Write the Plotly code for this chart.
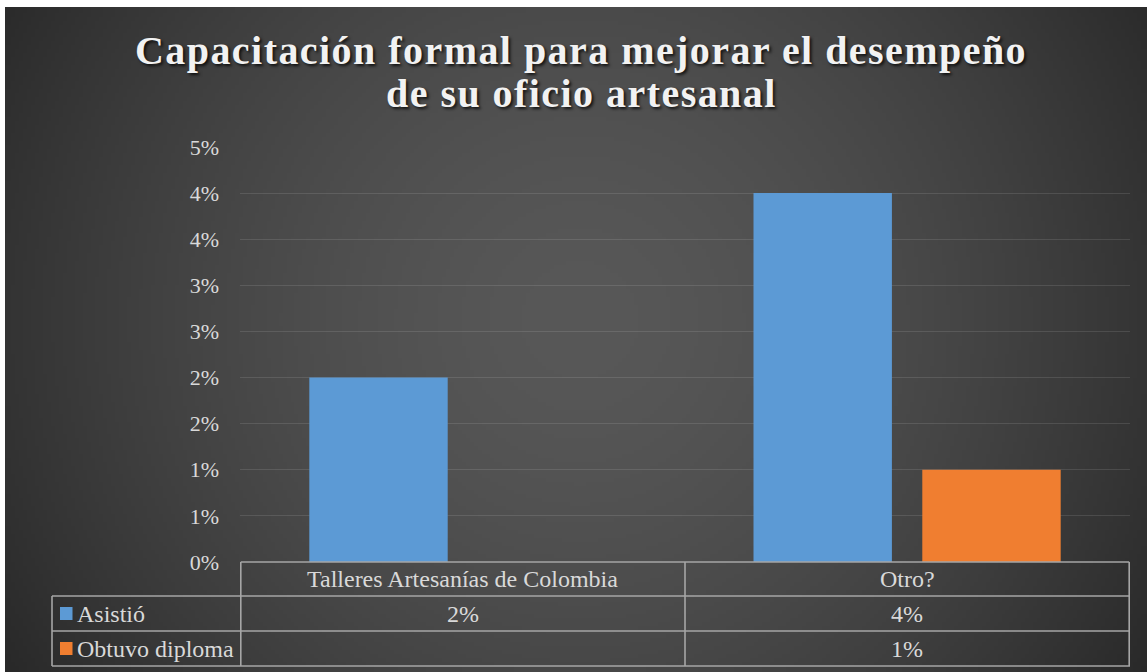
import base64
import struct
import zlib

import numpy as np
import plotly.graph_objects as go

# ---------------- data ----------------
categories = ["Talleres Artesanías de Colombia", "Otro?"]
series_names = ["Asistió", "Obtuvo diploma"]
asistio = [0.02, 0.04]
obtuvo_diploma = [None, 0.01]
series_values = [asistio, obtuvo_diploma]
series_colors = ["#5c9ad5", "#f07e30"]

y_tick_vals = [0.0, 0.005, 0.01, 0.015, 0.02, 0.025, 0.03, 0.035, 0.04, 0.045]
y_tick_text = ["0%", "1%", "1%", "2%", "2%", "3%", "3%", "4%", "4%", "5%"]

title_line1 = "Capacitación formal para mejorar el desempeño"
title_line2 = "de su oficio artesanal"

# ---------------- geometry helpers ----------------
W, H = 1147, 672


def px(x):
    return x / W


def py(y):
    return 1 - y / H


# ---------------- background gradient (PNG) ----------------
def make_png(gray):
    h, w = gray.shape
    raw = b"".join(b"\x00" + gray[i].tobytes() for i in range(h))

    def chunk(tag, data):
        c = struct.pack(">I", len(data)) + tag + data
        return c + struct.pack(">I", zlib.crc32(tag + data) & 0xFFFFFFFF)

    png = b"\x89PNG\r\n\x1a\n"
    png += chunk(b"IHDR", struct.pack(">IIBBBBB", w, h, 8, 0, 0, 0, 0))
    png += chunk(b"IDAT", zlib.compress(raw, 9))
    png += chunk(b"IEND", b"")
    return "data:image/png;base64," + base64.b64encode(png).decode()


bg_left, bg_top = 5, 7
gw, gh = 286, 166
xs = bg_left + (np.arange(gw) + 0.5) * (W - bg_left) / gw
ys = bg_top + (np.arange(gh) + 0.5) * (H - bg_top) / gh
X, Y = np.meshgrid(xs, ys)
cx, cy = 580, 320
r = np.clip(np.sqrt((X - cx) ** 2 + (Y - cy) ** 2) / 700.0, 0, 1)
gray = np.clip(88 - 50 * r ** 1.6, 0, 255).astype(np.uint8)
bg_src = make_png(gray)

# ---------------- figure ----------------
fig = go.Figure()
for name, vals, col in zip(series_names, series_values, series_colors):
    fig.add_trace(go.Bar(
        x=categories, y=vals, name=name,
        marker=dict(color=col, line=dict(width=0)),
        hoverinfo="x+y+name",
    ))

text_color = "#d9d9d9"
line_color = "#a6a6a6"
font_family = "Liberation Serif, Times New Roman, serif"
title_size = 40

# table rows (pixel y of horizontal rules)
row_y = [562, 596, 631, 666]
table_left = 52
ncat = len(categories)
shapes = []
shapes.append(dict(type="line", xref="x", yref="paper", x0=-0.5, x1=ncat - 0.5,
                   y0=py(row_y[0]), y1=py(row_y[0]),
                   line=dict(color=line_color, width=1.6)))
for yy in row_y[1:]:
    shapes.append(dict(type="line", xref="paper", yref="paper",
                       x0=px(table_left), x1=px(1130), y0=py(yy), y1=py(yy),
                       line=dict(color=line_color, width=1.6)))
shapes.append(dict(type="line", xref="paper", yref="paper",
                   x0=px(table_left), x1=px(table_left),
                   y0=py(row_y[1]), y1=py(row_y[3]),
                   line=dict(color=line_color, width=1.6)))
for k in range(ncat + 1):
    shapes.append(dict(type="line", xref="x", yref="paper",
                       x0=k - 0.5, x1=k - 0.5, y0=py(row_y[0]), y1=py(row_y[3]),
                       line=dict(color=line_color, width=1.6)))

annotations = []
tfont = dict(family=font_family, size=24, color=text_color)
for c in categories:
    annotations.append(dict(x=c, xref="x", y=py((row_y[0] + row_y[1]) / 2), yref="paper",
                            text=c, showarrow=False, font=tfont,
                            xanchor="center", yanchor="middle"))
for i, (name, vals, col) in enumerate(zip(series_names, series_values, series_colors)):
    yc = (row_y[i + 1] + row_y[i + 2]) / 2
    shapes.append(dict(type="rect", xref="paper", yref="paper",
                       x0=px(60), x1=px(72.5), y0=py(yc - 6.5), y1=py(yc + 6.5),
                       fillcolor=col, line=dict(width=0)))
    annotations.append(dict(x=px(75), xref="paper", y=py(yc), yref="paper",
                            text=name, showarrow=False, font=tfont,
                            xanchor="left", yanchor="middle"))
    for c, v in zip(categories, vals):
        if v is None:
            continue
        annotations.append(dict(x=c, xref="x", y=py(yc), yref="paper",
                                text=f"{v * 100:.0f}%", showarrow=False, font=tfont,
                                xanchor="center", yanchor="middle"))

shadow = "2px 2px 3px rgba(0,0,0,0.75)"
annotations.append(dict(x=px(581), xref="paper", y=py(93), yref="paper",
                        text=title_line2, showarrow=False,
                        font=dict(family=font_family, size=title_size, color="#f2f2f2",
                                  weight="bold", shadow=shadow),
                        xanchor="center", yanchor="middle"))

fig.update_layout(
    width=W, height=H,
    margin=dict(l=0, r=0, t=0, b=0, pad=0),
    paper_bgcolor="#ffffff",
    plot_bgcolor="rgba(0,0,0,0)",
    showlegend=False,
    barmode="group",
    bargap=0.24,
    bargroupgap=0.18,
    title=dict(text=title_line1, x=px(581), xanchor="center", xref="paper",
               y=py(50), yanchor="middle", yref="paper",
               font=dict(family=font_family, size=title_size, color="#f2f2f2",
                         weight="bold", shadow=shadow)),
    xaxis=dict(domain=[px(240), px(1130)], showticklabels=False, showgrid=False,
               zeroline=False, showline=False, ticks="", fixedrange=True),
    yaxis=dict(domain=[py(562), py(147)], range=[0, 0.045],
               tickvals=y_tick_vals, ticktext=y_tick_text,
               tickfont=dict(family=font_family, size=22, color=text_color),
               ticks="", ticklabelstandoff=20,
               showgrid=True, gridcolor="rgba(255,255,255,0.11)", gridwidth=1.4,
               zeroline=False, showline=False, automargin=False, fixedrange=True),
    shapes=shapes,
    annotations=annotations,
    images=[dict(source=bg_src, xref="paper", yref="paper",
                 x=px(bg_left), y=py(bg_top), sizex=1 - px(bg_left), sizey=py(bg_top),
                 xanchor="left", yanchor="top", sizing="stretch", layer="below")],
)

post = """
document.body.style.margin='0';
var gd = document.getElementById('{plot_id}');
function spaceTitle(){
  gd.querySelectorAll('text').forEach(function(t){
    if (t.style.fontSize === '%dpx') { t.style.letterSpacing = '1.45px'; }
  });
}
spaceTitle();
if (gd.on) { gd.on('plotly_afterplot', spaceTitle); }
""".replace("%d", str(title_size))

fig.write_html("out.html", config={"displayModeBar": False}, post_script=post)
